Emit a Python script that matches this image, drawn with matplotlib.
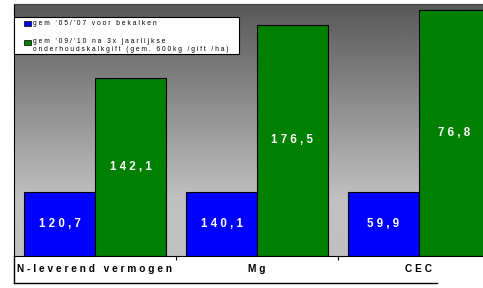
import numpy as np
import matplotlib
matplotlib.use("Agg")
import matplotlib.pyplot as plt
from matplotlib.patches import Rectangle
from matplotlib.lines import Line2D

plt.rcParams['font.family'] = ['Liberation Sans', 'DejaVu Sans']

categories = ["N-leverend vermogen", "Mg", "CEC"]
before = [120.7, 140.1, 59.9]    # gem '05/'07
after = [142.1, 176.5, 76.8]     # gem '09/'10
label_before = "gem '05/'07 voor bekalken"
label_after = ["gem '09/'10 na 3x jaarlijkse",
               "onderhoudskalkgift (gem. 600kg /gift /ha)"]

BLUE = "#0000ff"
GREEN = "#008000"


def spaced(s):
    # mimic the wide letter spacing of the original
    return " ".join(s)


def fmt(v):
    return spaced(f"{v:.1f}".replace(".", ","))


# plotted as index relative to the "before" value (=100)
idx_before = [100.0 for _ in before]
idx_after = [a / b * 100 for a, b in zip(after, before)]

W, H = 483, 288
fig = plt.figure(figsize=(W / 100, H / 100), dpi=100)
ax = fig.add_axes([14 / W, (H - 256) / H, (500 - 14) / W, (256 - 4) / H])

ymin, ymax = 90, 129.2
x = np.arange(len(categories))
bw = 0.438

# gradient background
grad = np.concatenate([np.linspace(0.345, 0.75, 200), np.full(60, 0.75)])[:, None]
ax.imshow(grad, cmap="gray", vmin=0, vmax=1, aspect="auto",
          extent=[-0.5, 2.5, ymin, ymax], origin="upper", zorder=0)

ax.bar(x - bw / 2, np.array(idx_before) - ymin, bw, bottom=ymin,
       color=BLUE, edgecolor="black", linewidth=0.8, zorder=2)
ax.bar(x + bw / 2, np.array(idx_after) - ymin, bw, bottom=ymin,
       color=GREEN, edgecolor="black", linewidth=0.8, zorder=2)

for i in range(len(categories)):
    ax.text(x[i] - bw / 2, (idx_before[i] + ymin) / 2, fmt(before[i]),
            ha="center", va="center", color="white", fontsize=8.3,
            fontweight="bold", zorder=3)
    ax.text(x[i] + bw / 2, (idx_after[i] + ymin) / 2, fmt(after[i]),
            ha="center", va="center", color="white", fontsize=8.3,
            fontweight="bold", zorder=3)

ax.set_xlim(-0.5, 2.5)
ax.set_ylim(ymin, ymax)
ax.set_yticks([])
ax.set_xticks(x)
ax.set_xticklabels([spaced(c) for c in categories], fontsize=7.3,
                   fontweight="bold")
ax.tick_params(axis="x", which="major", length=0, pad=6)
ax.set_xticks([0.5, 1.5], minor=True)
ax.tick_params(axis="x", which="minor", length=3, width=0.8, color="black")

ax.spines["right"].set_visible(False)
ax.spines["top"].set_color("#404040")
ax.spines["left"].set_color("black")
ax.spines["bottom"].set_color("black")

# label band below the axis
fig.add_artist(Line2D([14 / W, 437 / W], [(H - 283) / H] * 2,
                      color="black", linewidth=1))
fig.add_artist(Line2D([14 / W, 14 / W], [(H - 283) / H, (H - 256) / H],
                      color="black", linewidth=1))


# legend box, built by hand in pixel positions (top-left origin)
def px(xp, yp):
    return xp / W, (H - yp) / H


fig.add_artist(Rectangle(px(14, 54), 225 / W, 37 / H, facecolor="white",
                         edgecolor="black", linewidth=0.8, zorder=5))
fig.add_artist(Rectangle(px(24, 26), 7 / W, 5 / H, facecolor=BLUE,
                         edgecolor="black", linewidth=0.5, zorder=6))
fig.add_artist(Rectangle(px(24, 45), 7 / W, 5 / H, facecolor=GREEN,
                         edgecolor="black", linewidth=0.5, zorder=6))
fig.text(*px(33, 23.5), spaced(label_before), fontsize=4.9, va="center",
         ha="left", zorder=7)
fig.text(*px(33, 41.5), spaced(label_after[0]), fontsize=4.9, va="center",
         ha="left", zorder=7)
fig.text(*px(33, 49.5), spaced(label_after[1]), fontsize=4.8, va="center",
         ha="left", zorder=7)

fig.savefig("out.png", dpi=100)
